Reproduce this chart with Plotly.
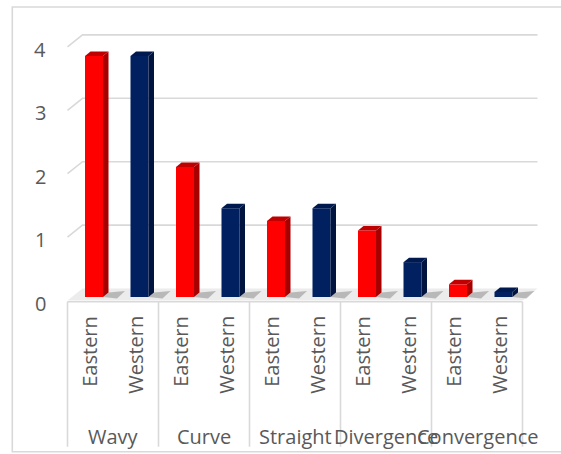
import plotly.graph_objects as go

# ---- data -------------------------------------------------------------
groups = ["Wavy", "Curve", "Straight", "Divergence", "Convergence"]
regions = ["Eastern", "Western"]
eastern = [3.8, 2.05, 1.2, 1.05, 0.2]
western = [3.8, 1.4, 1.4, 0.55, 0.08]
y_ticks = [0, 1, 2, 3, 4]

# ---- styling ----------------------------------------------------------
W, H = 561, 454
FONT = "Open Sans"
TEXT_COLOR = "#595959"
GRID_COLOR = "#d9d9d9"
FRONT_COLORS = {"Eastern": "#ff0000", "Western": "#002060"}
SIDE_COLORS = {"Eastern": "#a80000", "Western": "#00143f"}
TOP_COLORS = {"Eastern": "#c00000", "Western": "#001a4f"}

# pixel geometry of the pseudo-3D frame
SLOT_PX = 45.5      # width of one category slot
UNIT_PX = 63.4      # height of one value unit
ORIGIN_X = 67.5     # left edge of the category axis
ORIGIN_Y = 297      # floor line under the bars (value 0)
FRONT_DY = 3.5      # front edge of the floor lies below the bar floor
BACK_DY = 8.5       # back wall lies above the bar floor
BACK_DX = 15        # back wall is pushed to the right
BAR_W = 18          # width of a bar's front face
BAR_SHIFT = -5.25   # left edge of the front face from the slot centre
DEPTH_DX, DEPTH_DY = 5.5, 4.5   # bar depth (side / top faces)
AXIS_BOTTOM = 446.7 # lower end of the category dividers

ux = 1.0 / SLOT_PX  # data units per pixel (x)
uy = 1.0 / UNIT_PX  # data units per pixel (y)

n_slots = len(groups) * len(regions)
left_edge = -0.5
right_edge = n_slots - 0.5

x_range = [-ORIGIN_X / SLOT_PX - 0.5, (W - ORIGIN_X) / SLOT_PX - 0.5]
y_range = [-(H - ORIGIN_Y) / UNIT_PX, ORIGIN_Y / UNIT_PX]


def poly(points):
    return "M " + " L ".join(f"{x:.5f},{y:.5f}" for x, y in points) + " Z"


fig = go.Figure()
shapes = []
annotations = []

# floor
shapes.append(dict(
    type="path", xref="x", yref="y", layer="below",
    path=poly([(left_edge, -FRONT_DY * uy), (right_edge, -FRONT_DY * uy),
               (right_edge + BACK_DX * ux, BACK_DY * uy),
               (left_edge + BACK_DX * ux, BACK_DY * uy)]),
    fillcolor="#ececec", line=dict(width=0),
))

# back-wall gridlines with the side-wall diagonal
for v in y_ticks:
    if v == 0:
        continue
    shapes.append(dict(
        type="path", xref="x", yref="y", layer="below",
        path=(f"M {left_edge:.5f},{v - FRONT_DY * uy:.5f} "
              f"L {left_edge + BACK_DX * ux:.5f},{v + BACK_DY * uy:.5f} "
              f"L {right_edge + BACK_DX * ux:.5f},{v + BACK_DY * uy:.5f}"),
        line=dict(color=GRID_COLOR, width=1.6),
    ))
    annotations.append(dict(
        x=40 / W, xref="paper", y=v, yref="y", yshift=-6,
        text=str(v), showarrow=False, xanchor="center", yanchor="middle",
        font=dict(family=FONT, size=20, color=TEXT_COLOR),
    ))
annotations.append(dict(
    x=40 / W, xref="paper", y=0, yref="y", yshift=-6,
    text="0", showarrow=False, xanchor="center", yanchor="middle",
    font=dict(family=FONT, size=20, color=TEXT_COLOR),
))

# bars: front faces as bar traces, depth faces as shapes
for r, region in enumerate(regions):
    vals = eastern if region == "Eastern" else western
    xs = [g * len(regions) + r for g in range(len(groups))]
    fig.add_trace(go.Bar(
        x=xs, y=vals, name=region,
        width=BAR_W / SLOT_PX, offset=BAR_SHIFT / SLOT_PX,
        marker=dict(color=FRONT_COLORS[region], line=dict(width=0)),
        showlegend=False, hoverinfo="y",
    ))
    for x, v in zip(xs, vals):
        x0 = x + BAR_SHIFT * ux
        x1 = x0 + BAR_W * ux
        dx, dy = DEPTH_DX * ux, DEPTH_DY * uy
        # floor shadow
        shapes.append(dict(
            type="path", xref="x", yref="y", layer="below",
            path=poly([(x1, 0), (x1 + 14 * ux, -1.5 * uy),
                       (x1 + 22 * ux, 6 * uy), (x1 + dx, dy)]),
            fillcolor="rgba(90,90,90,0.35)", line=dict(width=0),
        ))
        shapes.append(dict(
            type="path", xref="x", yref="y", layer="above",
            path=poly([(x1, 0), (x1, v), (x1 + dx, v + dy), (x1 + dx, dy)]),
            fillcolor=SIDE_COLORS[region], line=dict(width=0),
        ))
        shapes.append(dict(
            type="path", xref="x", yref="y", layer="above",
            path=poly([(x0, v), (x1, v), (x1 + dx, v + dy), (x0 + dx, v + dy)]),
            fillcolor=TOP_COLORS[region], line=dict(width=0),
        ))
        annotations.append(dict(
            x=x, xref="x", y=0, yref="y", yshift=-17, xshift=-1,
            text=region, textangle=-90, showarrow=False,
            xanchor="center", yanchor="top",
            font=dict(family=FONT, size=20, color=TEXT_COLOR),
        ))

# category axis: front edge, dividers and group labels
axis_bottom = -(AXIS_BOTTOM - ORIGIN_Y) * uy
shapes.append(dict(
    type="line", xref="x", yref="y", layer="below",
    x0=left_edge, x1=right_edge, y0=-FRONT_DY * uy - 1.2 * uy, y1=-FRONT_DY * uy - 1.2 * uy,
    line=dict(color=GRID_COLOR, width=1.6),
))
for g in range(len(groups) + 1):
    xd = left_edge + g * len(regions)
    shapes.append(dict(
        type="line", xref="x", yref="y", layer="below",
        x0=xd, x1=xd, y0=-FRONT_DY * uy - 1.2 * uy, y1=axis_bottom,
        line=dict(color=GRID_COLOR, width=1.6),
    ))
for g, name in enumerate(groups):
    annotations.append(dict(
        x=g * len(regions) + 0.5, xref="x", y=0, yref="y", yshift=-139,
        text=name, showarrow=False, xanchor="center", yanchor="middle",
        font=dict(family=FONT, size=20, color=TEXT_COLOR),
    ))

# chart-area border
shapes.append(dict(
    type="rect", xref="paper", yref="paper", layer="below",
    x0=12.3 / W, x1=(W + 10) / W, y0=1 - 451.7 / H, y1=1 - 7 / H,
    line=dict(color=GRID_COLOR, width=1.6), fillcolor="rgba(0,0,0,0)",
))

fig.update_layout(
    width=W, height=H,
    margin=dict(l=0, r=0, t=0, b=0),
    paper_bgcolor="white", plot_bgcolor="white",
    barmode="overlay",
    xaxis=dict(range=x_range, visible=False, fixedrange=True),
    yaxis=dict(range=y_range, visible=False, fixedrange=True),
    shapes=shapes, annotations=annotations,
    showlegend=False,
)

fig.write_html("out.html")
